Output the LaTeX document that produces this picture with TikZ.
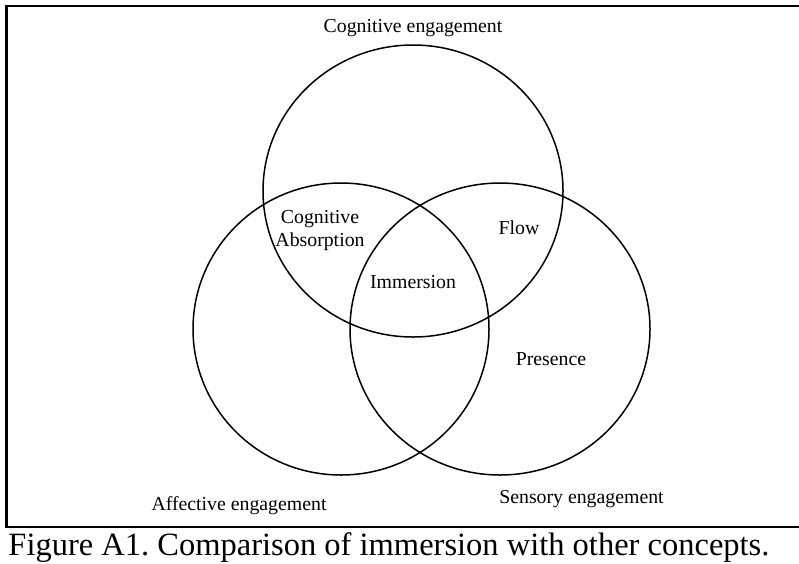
\documentclass[tikz,border=0pt]{standalone}
\usepackage{fontspec}
\setmainfont{Liberation Serif}
\frenchspacing
\begin{document}
\begin{tikzpicture}[x=1pt,y=-1pt,
  ring/.style={line width=1.5pt, draw=black},
  framebox/.style={line width=2.3pt, draw=black},
  lbl/.style={font=\fontsize{19.8}{22.7}\selectfont, inner sep=0pt, anchor=base, align=center},
  captext/.style={font=\fontsize{32.5}{36}\selectfont, inner sep=0pt, anchor=base west}]
  \useasboundingbox (0,0) rectangle (799,563);
  \clip (0,0) rectangle (799,563);
  % outer frame and caption separator
  \coordinate (tl) at (6.5,5.7);
  \coordinate (br) at (805,526.7);
  \draw[framebox] (tl) rectangle (br);
  % the three engagement sets
  \coordinate (cog) at (413,191);
  \coordinate (aff) at (341,329);
  \coordinate (sen) at (500,329);
  \draw[ring] (cog) ellipse [x radius=150, y radius=146];
  \draw[ring] (aff) ellipse [x radius=148, y radius=146];
  \draw[ring] (sen) ellipse [x radius=150, y radius=146];
  % labels
  \node[lbl] (lcog) at (413,32.3) {Cognitive engagement};
  \node[lbl, anchor=base] (labs) at (320,246) {Cognitive\\Absorption};
  \node[lbl] (lflow) at (519,234) {Flow};
  \node[lbl] (limm) at (413,288.3) {Immersion};
  \node[lbl] (lpres) at (551,365) {Presence};
  \node[lbl] (laff) at (239,510) {Affective engagement};
  \node[lbl] (lsen) at (581.5,503.3) {Sensory engagement};
  \node[captext] (caption) at (8.3,555.7) {Figure A1. Comparison of immersion with other concepts.};
\end{tikzpicture}
\end{document}
